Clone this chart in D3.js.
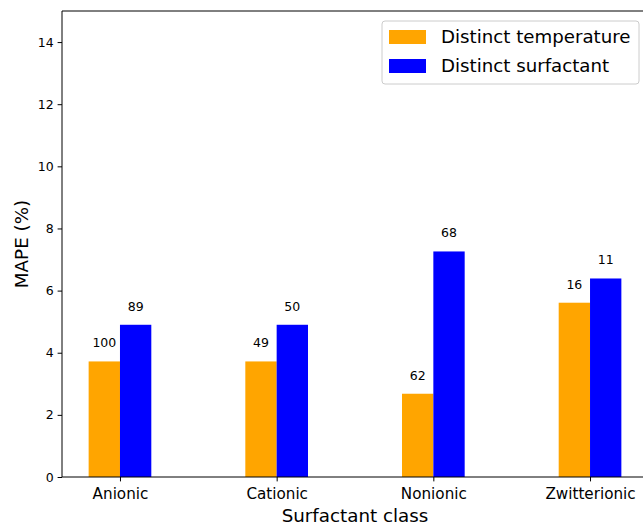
<!DOCTYPE html>
<html>
<head>
<meta charset="utf-8">
<script src="https://cdn.jsdelivr.net/npm/d3@7"></script>
<style>
  body { margin: 0; background: #fff; }
  svg { display: block; font-family: "DejaVu Sans", sans-serif; }
</style>
</head>
<body>
<div id="chart"></div>
<script>
// data
const categories = ['Anionic', 'Cationic', 'Nonionic', 'Zwitterionic'];
const seriesNames = ['Distinct temperature', 'Distinct surfactant'];
const tempValues = [3.72, 3.72, 2.68, 5.61];
const surfValues = [4.9, 4.9, 7.26, 6.39];
const tempCounts = [100, 49, 62, 16];
const surfCounts = [89, 50, 68, 11];
const yTicks = [0, 2, 4, 6, 8, 10, 12, 14];

const colors = ['#ffa500', '#0000ff'];

const W = 643, H = 525;
const m = {l: 62, t: 11, r: 648, b: 477};
const barW = 0.2;

const svg = d3.select('#chart').append('svg')
  .attr('width', W).attr('height', H);

const x = d3.scaleLinear().domain([-0.37, 3.37]).range([m.l, m.r]);
const y = d3.scaleLinear().domain([0, 15]).range([m.b, m.t]);

const series = [
  {name: seriesNames[0], vals: tempValues, counts: tempCounts, off: -barW / 2, c: colors[0]},
  {name: seriesNames[1], vals: surfValues, counts: surfCounts, off: barW / 2, c: colors[1]}
];

// bars
series.forEach(function(s) {
  const g = svg.append('g');
  g.selectAll('rect')
    .data(s.vals)
    .enter().append('rect')
      .attr('x', function(d, i) { return x(i + s.off - barW / 2); })
      .attr('width', x(barW) - x(0))
      .attr('y', function(d) { return y(d); })
      .attr('height', function(d) { return y(0) - y(d); })
      .attr('fill', s.c);

  // count labels above each bar
  g.selectAll('text')
    .data(s.vals)
    .enter().append('text')
      .attr('x', function(d, i) { return x(i + s.off); })
      .attr('y', function(d) { return y(d) - 14; })
      .attr('text-anchor', 'middle')
      .attr('font-size', '12.5px')
      .attr('fill', '#000')
      .text(function(d, i) { return s.counts[i]; });
});

// x axis
const xAxis = svg.append('g')
  .attr('transform', 'translate(0,' + m.b + ')')
  .call(d3.axisBottom(x)
    .tickValues(d3.range(categories.length))
    .tickFormat(function(i) { return categories[i]; })
    .tickSize(4.4));
xAxis.selectAll('text')
  .attr('y', 22).attr('dy', 0)
  .attr('font-size', '15.2px').attr('fill', '#000').attr('font-family', 'DejaVu Sans');

// y axis
const yAxis = svg.append('g')
  .attr('transform', 'translate(' + m.l + ',0)')
  .call(d3.axisLeft(y).tickValues(yTicks).tickSize(4.4).tickPadding(4));
yAxis.selectAll('text').attr('font-size', '12.5px').attr('fill', '#000').attr('font-family', 'DejaVu Sans');

[xAxis, yAxis].forEach(function(a) {
  a.select('.domain').remove();
  a.selectAll('line').attr('stroke', '#000');
});

// spines
svg.append('path')
  .attr('d', 'M' + m.r + ',' + m.b + 'H' + m.l + 'V' + m.t + 'H' + m.r)
  .attr('fill', 'none').attr('stroke', '#000').attr('stroke-width', 1);

// axis titles
svg.append('text')
  .attr('x', 355).attr('y', 522)
  .attr('text-anchor', 'middle').attr('font-size', '18.3px')
  .text('Surfactant class');

svg.append('text')
  .attr('transform', 'translate(28,' + 244 + ')rotate(-90)')
  .attr('text-anchor', 'middle').attr('font-size', '18.3px')
  .text('MAPE (%)');

// legend
const leg = svg.append('g').attr('transform', 'translate(382,21)');
leg.append('rect')
  .attr('width', 257).attr('height', 63).attr('rx', 3)
  .attr('fill', '#fff').attr('fill-opacity', 0.8)
  .attr('stroke', '#cccccc').attr('stroke-width', 1);
series.forEach(function(s, i) {
  leg.append('rect')
    .attr('x', 7).attr('y', 9 + i * 29)
    .attr('width', 37).attr('height', 14)
    .attr('fill', s.c);
  leg.append('text')
    .attr('x', 59).attr('y', 16 + i * 29)
    .attr('dy', '0.35em')
    .attr('font-size', '18.2px')
    .text(s.name);
});
</script>
</body>
</html>
